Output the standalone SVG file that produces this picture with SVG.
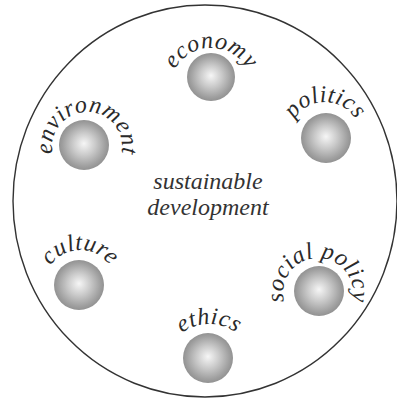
<svg xmlns="http://www.w3.org/2000/svg" xmlns:xlink="http://www.w3.org/1999/xlink" width="397" height="399" viewBox="0 0 397 399">
<style>
.lbl{font-family:"Liberation Serif","Times New Roman",serif;font-style:italic;font-size:24px;fill:#2a2a2a;letter-spacing:0.4px}
.ctr{font-family:"Liberation Serif","Times New Roman",serif;font-style:italic;font-size:24px;fill:#333;text-anchor:middle}
.sph{fill:url(#g)}
</style>
<defs>
<radialGradient id="g" cx="0.5" cy="0.5" r="0.5" fx="0.5" fy="0.47">
<stop offset="0" stop-color="#f6f6f6"/>
<stop offset="0.45" stop-color="#cacaca"/>
<stop offset="0.85" stop-color="#a0a0a0"/>
<stop offset="1" stop-color="#929292"/>
</radialGradient>
<path id="pEco" d="M211,130 A41,41 0 1 1 211,48 A41,41 0 1 1 211,130"/>
<path id="pEnv" d="M87,182 A35,35 0 1 1 87,112 A35,35 0 1 1 87,182"/>
<path id="pPol" d="M325,174 A36,36 0 1 1 325,102 A36,36 0 1 1 325,174"/>
<path id="pCul" d="M80,322 A36,36 0 1 1 80,250 A36,36 0 1 1 80,322"/>
<path id="pEth" d="M209,416 A46,46 0 1 1 209,324 A46,46 0 1 1 209,416"/>
<path id="pSoc" d="M318,328 A35,35 0 1 1 318,258 A35,35 0 1 1 318,328"/>
</defs>
<rect width="397" height="399" fill="#fff"/>
<ellipse id="boundary" cx="205" cy="201" rx="192" ry="196" fill="none" stroke="#333" stroke-width="1.4"/>
<g id="connectors"></g>
<g id="center"><text class="ctr" x="208" y="189">sustainable</text><text class="ctr" x="208" y="215">development</text></g>
<g id="economy"><circle class="sph" cx="211" cy="77" r="24"/><text class="lbl" text-anchor="middle"><textPath xlink:href="#pEco" startOffset="50%">economy</textPath></text></g>
<g id="environment"><circle class="sph" cx="84" cy="145" r="25"/><text class="lbl" text-anchor="middle"><textPath xlink:href="#pEnv" startOffset="50%">environment</textPath></text></g>
<g id="politics"><circle class="sph" cx="326" cy="138" r="25"/><text class="lbl" text-anchor="middle"><textPath xlink:href="#pPol" startOffset="50%">politics</textPath></text></g>
<g id="culture"><circle class="sph" cx="79" cy="285" r="25"/><text class="lbl" text-anchor="middle"><textPath xlink:href="#pCul" startOffset="50%">culture</textPath></text></g>
<g id="ethics"><circle class="sph" cx="208" cy="358" r="25"/><text class="lbl" text-anchor="middle"><textPath xlink:href="#pEth" startOffset="50%">ethics</textPath></text></g>
<g id="social_policy"><circle class="sph" cx="319" cy="291" r="25"/><text class="lbl" text-anchor="middle"><textPath xlink:href="#pSoc" startOffset="50%">social policy</textPath></text></g>
</svg>
